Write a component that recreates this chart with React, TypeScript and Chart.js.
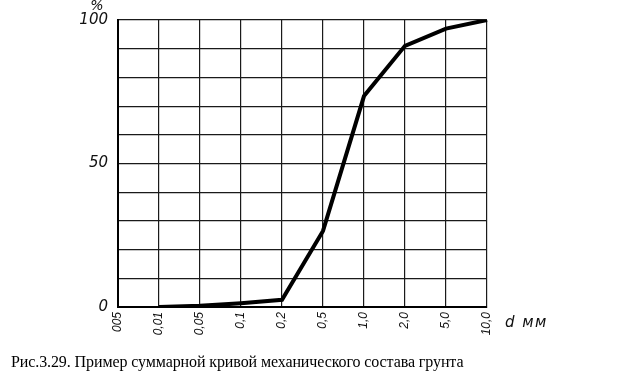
import React, { useEffect, useRef } from "react";
import { Chart, registerables } from "chart.js";

Chart.register(...registerables);

const categories = ["005", "0,01", "0,05", "0,1", "0,2", "0,5", "1,0", "2,0", "5,0", "10,0"];
const cumulative: (number | null)[] = [null, 0, 0.4, 1.3, 2.5, 26.5, 73.5, 91, 97, 100];
const yLabelsShown = [0, 50, 100];
const yUnit = "%";
const xUnit = "d мм";
const caption = "Рис.3.29. Пример суммарной кривой механического состава грунта";

const W = 623;
const H = 387;
const AREA = { left: 118, right: 487, top: 20, bottom: 307 };

const labelsPlugin = {
  id: "unitLabels",
  afterDraw(chart: any) {
    const { ctx, chartArea } = chart;
    ctx.save();
    ctx.fillStyle = "#111";
    ctx.font = "italic 14px 'DejaVu Sans'";
    ctx.textAlign = "center";
    ctx.textBaseline = "middle";
    ctx.fillText(yUnit, chartArea.left - 21, chartArea.top - 14);
    ctx.textAlign = "left";
    ctx.font = "italic 15px 'DejaVu Sans'";
    if ("letterSpacing" in ctx) (ctx as any).letterSpacing = "1.5px";
    ctx.fillText(xUnit, chartArea.right + 18, chartArea.bottom + 16);
    ctx.restore();
  },
};

export default function App() {
  const ref = useRef<HTMLCanvasElement | null>(null);
  useEffect(() => {
    if (!ref.current) return;
    const chart = new Chart(ref.current, {
      type: "line",
      data: {
        labels: categories,
        datasets: [
          {
            data: cumulative,
            borderColor: "#000",
            borderWidth: 4,
            pointRadius: 0,
            tension: 0,
            spanGaps: false,
          },
        ],
      },
      options: {
        animation: false,
        responsive: false,
        devicePixelRatio: 1,
        layout: {
          padding: { left: 0, top: AREA.top, right: W - AREA.right, bottom: 0 },
        },
        plugins: { legend: { display: false }, tooltip: { enabled: false } },
        scales: {
          x: {
            offset: false,
            afterFit: (s: any) => {
              s.height = H - AREA.bottom;
              s.paddingLeft = 0;
              s.paddingRight = 0;
            },
            grid: { color: "#1a1a1a", lineWidth: 1.2, drawTicks: false },
            border: { color: "#000", width: 2 },
            ticks: {
              autoSkip: false,
              minRotation: 90,
              maxRotation: 90,
              padding: 5,
              color: "#111",
              font: { family: "'Liberation Sans'", style: "italic", size: 12 },
            },
          },
          y: {
            min: 0,
            max: 100,
            afterFit: (s: any) => {
              s.width = AREA.left;
            },
            grid: { color: "#1a1a1a", lineWidth: 1.2, drawTicks: false },
            border: { color: "#000", width: 2 },
            ticks: {
              stepSize: 10,
              padding: 10,
              color: "#111",
              font: { family: "'DejaVu Sans'", style: "italic", size: 15 },
              callback: (v: any) => (yLabelsShown.includes(Number(v)) ? String(v) : ""),
            },
          },
        },
      },
      plugins: [labelsPlugin],
    });
    return () => chart.destroy();
  }, []);
  return (
    <div style={{ position: "absolute", left: 0, top: 0, width: W, height: H, background: "#fff" }}>
      <canvas ref={ref} width={W} height={H} style={{ position: "absolute", left: 0, top: 0 }} />
      <div
        style={{
          position: "absolute",
          left: 11,
          top: 352,
          fontFamily: "'Liberation Serif', serif",
          fontSize: 16,
          letterSpacing: "-0.1px",
          lineHeight: "20px",
          color: "#000",
          whiteSpace: "nowrap",
        }}
      >
        {caption}
      </div>
    </div>
  );
}
